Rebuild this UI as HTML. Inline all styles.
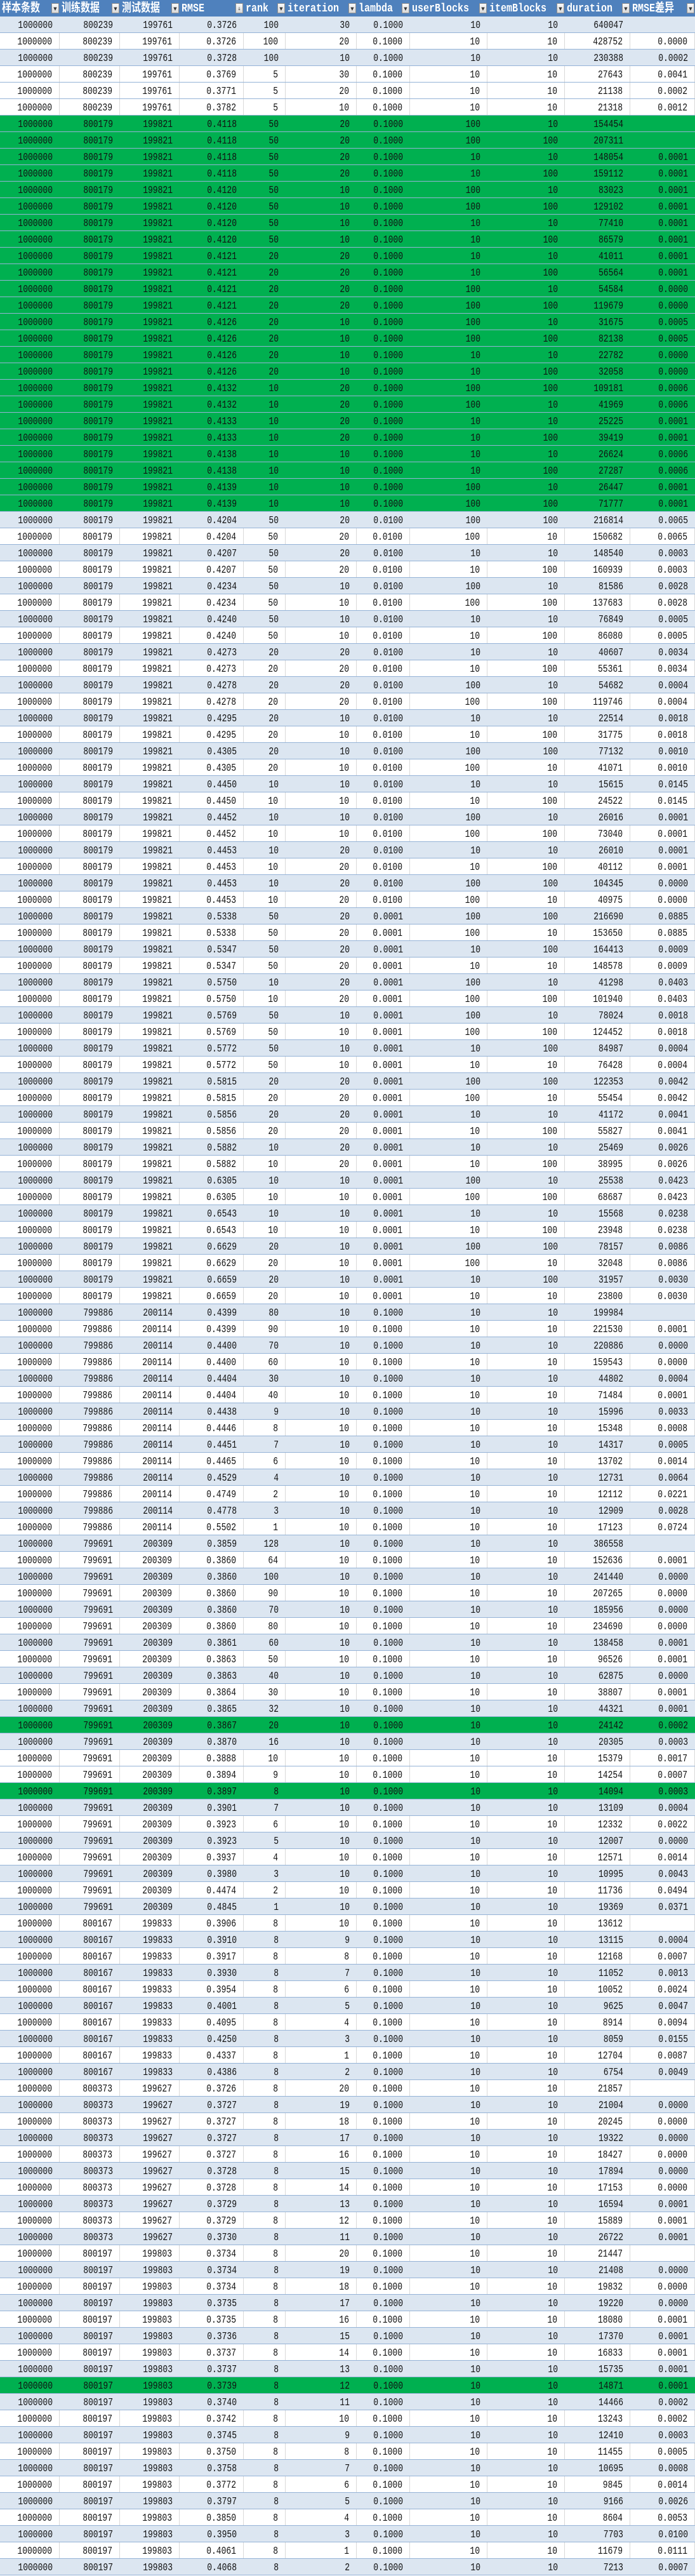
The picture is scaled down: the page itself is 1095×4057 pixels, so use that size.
<!DOCTYPE html>
<html>
<head>
<meta charset="utf-8">
<style>
html,body{margin:0;padding:0;background:#fff;}
#sheet{position:relative;width:1095px;height:4057px;overflow:hidden;background:#fff;}
.hdr{position:absolute;left:0;top:0;width:1095px;height:26px;background:#4F81BD;}
.hc{position:absolute;top:0;height:26px;color:#fff;font-family:"Liberation Mono","Noto Sans CJK SC",monospace;font-size:15px;font-weight:bold;line-height:26px;white-space:nowrap;overflow:hidden;}
.hc .lbl{position:absolute;left:3px;top:1px;display:inline-block;transform:scaleY(1.25);transform-origin:left center;}
.fb{position:absolute;right:1px;top:5px;width:12px;height:16px;background:linear-gradient(#fafafa,#d8d8d8);border:1px solid #8f8f8f;box-sizing:border-box;color:#333;font-size:7px;line-height:16px;text-align:center;font-weight:normal;font-family:"DejaVu Sans",sans-serif;}
.row{position:absolute;left:0;width:1095px;height:26px;box-sizing:border-box;border-bottom:1px solid #95B3D7;}
.b{background:#DCE6F1;}
.w{background:#fff;}
.g{background:#00B050;}
.c{position:absolute;top:0;height:25px;box-sizing:border-box;text-align:right;padding-right:11px;font-family:"Liberation Mono",monospace;font-size:13px;color:#111;line-height:27px;white-space:nowrap;}
.w .c{border-right:1px solid #D9D9D9;}
.c span{display:inline-block;transform:scaleY(1.25);transform-origin:center center;}
</style>
</head>
<body>
<div id="sheet">
  <div class="hdr" id="hdr"></div>
  <div id="body"></div>
</div>
<script>
var headers = ["样本条数","训练数据","测试数据","RMSE","rank","iteration","lambda","userBlocks","itemBlocks","duration","RMSE差异"];
var headerNames = ["sample-count-header","train-data-header","test-data-header","rmse-header","rank-header","iteration-header","lambda-header","user-blocks-header","item-blocks-header","duration-header","rmse-diff-header"];
var colEdges = [0,94,189,283,384,450,562,646,768,890,993,1095];
var sampleCount = "1000000";
// rows: train|test|rmse|rank|iteration|lambda|userBlocks|itemBlocks|duration|diff
var rows = [
"800239|199761|0.3726|100|30|0.1000|10|10|640047|",
"800239|199761|0.3726|100|20|0.1000|10|10|428752|0.0000",
"800239|199761|0.3728|100|10|0.1000|10|10|230388|0.0002",
"800239|199761|0.3769|5|30|0.1000|10|10|27643|0.0041",
"800239|199761|0.3771|5|20|0.1000|10|10|21138|0.0002",
"800239|199761|0.3782|5|10|0.1000|10|10|21318|0.0012",
"800179|199821|0.4118|50|20|0.1000|100|10|154454|",
"800179|199821|0.4118|50|20|0.1000|100|100|207311|",
"800179|199821|0.4118|50|20|0.1000|10|10|148054|0.0001",
"800179|199821|0.4118|50|20|0.1000|10|100|159112|0.0001",
"800179|199821|0.4120|50|10|0.1000|100|10|83023|0.0001",
"800179|199821|0.4120|50|10|0.1000|100|100|129102|0.0001",
"800179|199821|0.4120|50|10|0.1000|10|10|77410|0.0001",
"800179|199821|0.4120|50|10|0.1000|10|100|86579|0.0001",
"800179|199821|0.4121|20|20|0.1000|10|10|41011|0.0001",
"800179|199821|0.4121|20|20|0.1000|10|100|56564|0.0001",
"800179|199821|0.4121|20|20|0.1000|100|10|54584|0.0000",
"800179|199821|0.4121|20|20|0.1000|100|100|119679|0.0000",
"800179|199821|0.4126|20|10|0.1000|100|10|31675|0.0005",
"800179|199821|0.4126|20|10|0.1000|100|100|82138|0.0005",
"800179|199821|0.4126|20|10|0.1000|10|10|22782|0.0000",
"800179|199821|0.4126|20|10|0.1000|10|100|32058|0.0000",
"800179|199821|0.4132|10|20|0.1000|100|100|109181|0.0006",
"800179|199821|0.4132|10|20|0.1000|100|10|41969|0.0006",
"800179|199821|0.4133|10|20|0.1000|10|10|25225|0.0001",
"800179|199821|0.4133|10|20|0.1000|10|100|39419|0.0001",
"800179|199821|0.4138|10|10|0.1000|10|10|26624|0.0006",
"800179|199821|0.4138|10|10|0.1000|10|100|27287|0.0006",
"800179|199821|0.4139|10|10|0.1000|100|10|26447|0.0001",
"800179|199821|0.4139|10|10|0.1000|100|100|71777|0.0001",
"800179|199821|0.4204|50|20|0.0100|100|100|216814|0.0065",
"800179|199821|0.4204|50|20|0.0100|100|10|150682|0.0065",
"800179|199821|0.4207|50|20|0.0100|10|10|148540|0.0003",
"800179|199821|0.4207|50|20|0.0100|10|100|160939|0.0003",
"800179|199821|0.4234|50|10|0.0100|100|10|81586|0.0028",
"800179|199821|0.4234|50|10|0.0100|100|100|137683|0.0028",
"800179|199821|0.4240|50|10|0.0100|10|10|76849|0.0005",
"800179|199821|0.4240|50|10|0.0100|10|100|86080|0.0005",
"800179|199821|0.4273|20|20|0.0100|10|10|40607|0.0034",
"800179|199821|0.4273|20|20|0.0100|10|100|55361|0.0034",
"800179|199821|0.4278|20|20|0.0100|100|10|54682|0.0004",
"800179|199821|0.4278|20|20|0.0100|100|100|119746|0.0004",
"800179|199821|0.4295|20|10|0.0100|10|10|22514|0.0018",
"800179|199821|0.4295|20|10|0.0100|10|100|31775|0.0018",
"800179|199821|0.4305|20|10|0.0100|100|100|77132|0.0010",
"800179|199821|0.4305|20|10|0.0100|100|10|41071|0.0010",
"800179|199821|0.4450|10|10|0.0100|10|10|15615|0.0145",
"800179|199821|0.4450|10|10|0.0100|10|100|24522|0.0145",
"800179|199821|0.4452|10|10|0.0100|100|10|26016|0.0001",
"800179|199821|0.4452|10|10|0.0100|100|100|73040|0.0001",
"800179|199821|0.4453|10|20|0.0100|10|10|26010|0.0001",
"800179|199821|0.4453|10|20|0.0100|10|100|40112|0.0001",
"800179|199821|0.4453|10|20|0.0100|100|100|104345|0.0000",
"800179|199821|0.4453|10|20|0.0100|100|10|40975|0.0000",
"800179|199821|0.5338|50|20|0.0001|100|100|216690|0.0885",
"800179|199821|0.5338|50|20|0.0001|100|10|153650|0.0885",
"800179|199821|0.5347|50|20|0.0001|10|100|164413|0.0009",
"800179|199821|0.5347|50|20|0.0001|10|10|148578|0.0009",
"800179|199821|0.5750|10|20|0.0001|100|10|41298|0.0403",
"800179|199821|0.5750|10|20|0.0001|100|100|101940|0.0403",
"800179|199821|0.5769|50|10|0.0001|100|10|78024|0.0018",
"800179|199821|0.5769|50|10|0.0001|100|100|124452|0.0018",
"800179|199821|0.5772|50|10|0.0001|10|100|84987|0.0004",
"800179|199821|0.5772|50|10|0.0001|10|10|76428|0.0004",
"800179|199821|0.5815|20|20|0.0001|100|100|122353|0.0042",
"800179|199821|0.5815|20|20|0.0001|100|10|55454|0.0042",
"800179|199821|0.5856|20|20|0.0001|10|10|41172|0.0041",
"800179|199821|0.5856|20|20|0.0001|10|100|55827|0.0041",
"800179|199821|0.5882|10|20|0.0001|10|10|25469|0.0026",
"800179|199821|0.5882|10|20|0.0001|10|100|38995|0.0026",
"800179|199821|0.6305|10|10|0.0001|100|10|25538|0.0423",
"800179|199821|0.6305|10|10|0.0001|100|100|68687|0.0423",
"800179|199821|0.6543|10|10|0.0001|10|10|15568|0.0238",
"800179|199821|0.6543|10|10|0.0001|10|100|23948|0.0238",
"800179|199821|0.6629|20|10|0.0001|100|100|78157|0.0086",
"800179|199821|0.6629|20|10|0.0001|100|10|32048|0.0086",
"800179|199821|0.6659|20|10|0.0001|10|100|31957|0.0030",
"800179|199821|0.6659|20|10|0.0001|10|10|23800|0.0030",
"799886|200114|0.4399|80|10|0.1000|10|10|199984|",
"799886|200114|0.4399|90|10|0.1000|10|10|221530|0.0001",
"799886|200114|0.4400|70|10|0.1000|10|10|220886|0.0000",
"799886|200114|0.4400|60|10|0.1000|10|10|159543|0.0000",
"799886|200114|0.4404|30|10|0.1000|10|10|44802|0.0004",
"799886|200114|0.4404|40|10|0.1000|10|10|71484|0.0001",
"799886|200114|0.4438|9|10|0.1000|10|10|15996|0.0033",
"799886|200114|0.4446|8|10|0.1000|10|10|15348|0.0008",
"799886|200114|0.4451|7|10|0.1000|10|10|14317|0.0005",
"799886|200114|0.4465|6|10|0.1000|10|10|13702|0.0014",
"799886|200114|0.4529|4|10|0.1000|10|10|12731|0.0064",
"799886|200114|0.4749|2|10|0.1000|10|10|12112|0.0221",
"799886|200114|0.4778|3|10|0.1000|10|10|12909|0.0028",
"799886|200114|0.5502|1|10|0.1000|10|10|17123|0.0724",
"799691|200309|0.3859|128|10|0.1000|10|10|386558|",
"799691|200309|0.3860|64|10|0.1000|10|10|152636|0.0001",
"799691|200309|0.3860|100|10|0.1000|10|10|241440|0.0000",
"799691|200309|0.3860|90|10|0.1000|10|10|207265|0.0000",
"799691|200309|0.3860|70|10|0.1000|10|10|185956|0.0000",
"799691|200309|0.3860|80|10|0.1000|10|10|234690|0.0000",
"799691|200309|0.3861|60|10|0.1000|10|10|138458|0.0001",
"799691|200309|0.3863|50|10|0.1000|10|10|96526|0.0001",
"799691|200309|0.3863|40|10|0.1000|10|10|62875|0.0000",
"799691|200309|0.3864|30|10|0.1000|10|10|38807|0.0001",
"799691|200309|0.3865|32|10|0.1000|10|10|44321|0.0001",
"799691|200309|0.3867|20|10|0.1000|10|10|24142|0.0002",
"799691|200309|0.3870|16|10|0.1000|10|10|20305|0.0003",
"799691|200309|0.3888|10|10|0.1000|10|10|15379|0.0017",
"799691|200309|0.3894|9|10|0.1000|10|10|14254|0.0007",
"799691|200309|0.3897|8|10|0.1000|10|10|14094|0.0003",
"799691|200309|0.3901|7|10|0.1000|10|10|13109|0.0004",
"799691|200309|0.3923|6|10|0.1000|10|10|12332|0.0022",
"799691|200309|0.3923|5|10|0.1000|10|10|12007|0.0000",
"799691|200309|0.3937|4|10|0.1000|10|10|12571|0.0014",
"799691|200309|0.3980|3|10|0.1000|10|10|10995|0.0043",
"799691|200309|0.4474|2|10|0.1000|10|10|11736|0.0494",
"799691|200309|0.4845|1|10|0.1000|10|10|19369|0.0371",
"800167|199833|0.3906|8|10|0.1000|10|10|13612|",
"800167|199833|0.3910|8|9|0.1000|10|10|13115|0.0004",
"800167|199833|0.3917|8|8|0.1000|10|10|12168|0.0007",
"800167|199833|0.3930|8|7|0.1000|10|10|11052|0.0013",
"800167|199833|0.3954|8|6|0.1000|10|10|10052|0.0024",
"800167|199833|0.4001|8|5|0.1000|10|10|9625|0.0047",
"800167|199833|0.4095|8|4|0.1000|10|10|8914|0.0094",
"800167|199833|0.4250|8|3|0.1000|10|10|8059|0.0155",
"800167|199833|0.4337|8|1|0.1000|10|10|12704|0.0087",
"800167|199833|0.4386|8|2|0.1000|10|10|6754|0.0049",
"800373|199627|0.3726|8|20|0.1000|10|10|21857|",
"800373|199627|0.3727|8|19|0.1000|10|10|21004|0.0000",
"800373|199627|0.3727|8|18|0.1000|10|10|20245|0.0000",
"800373|199627|0.3727|8|17|0.1000|10|10|19322|0.0000",
"800373|199627|0.3727|8|16|0.1000|10|10|18427|0.0000",
"800373|199627|0.3728|8|15|0.1000|10|10|17894|0.0000",
"800373|199627|0.3728|8|14|0.1000|10|10|17153|0.0000",
"800373|199627|0.3729|8|13|0.1000|10|10|16594|0.0001",
"800373|199627|0.3729|8|12|0.1000|10|10|15889|0.0001",
"800373|199627|0.3730|8|11|0.1000|10|10|26722|0.0001",
"800197|199803|0.3734|8|20|0.1000|10|10|21447|",
"800197|199803|0.3734|8|19|0.1000|10|10|21408|0.0000",
"800197|199803|0.3734|8|18|0.1000|10|10|19832|0.0000",
"800197|199803|0.3735|8|17|0.1000|10|10|19220|0.0000",
"800197|199803|0.3735|8|16|0.1000|10|10|18080|0.0001",
"800197|199803|0.3736|8|15|0.1000|10|10|17370|0.0001",
"800197|199803|0.3737|8|14|0.1000|10|10|16833|0.0001",
"800197|199803|0.3737|8|13|0.1000|10|10|15735|0.0001",
"800197|199803|0.3739|8|12|0.1000|10|10|14871|0.0001",
"800197|199803|0.3740|8|11|0.1000|10|10|14466|0.0002",
"800197|199803|0.3742|8|10|0.1000|10|10|13243|0.0002",
"800197|199803|0.3745|8|9|0.1000|10|10|12410|0.0003",
"800197|199803|0.3750|8|8|0.1000|10|10|11455|0.0005",
"800197|199803|0.3758|8|7|0.1000|10|10|10695|0.0008",
"800197|199803|0.3772|8|6|0.1000|10|10|9845|0.0014",
"800197|199803|0.3797|8|5|0.1000|10|10|9166|0.0026",
"800197|199803|0.3850|8|4|0.1000|10|10|8604|0.0053",
"800197|199803|0.3950|8|3|0.1000|10|10|7703|0.0100",
"800197|199803|0.4061|8|1|0.1000|10|10|11679|0.0111",
"800197|199803|0.4068|8|2|0.1000|10|10|7213|0.0007"
];
var greenRows = [6,7,8,9,10,11,12,13,14,15,16,17,18,19,20,21,22,23,24,25,26,27,28,29,103,107,143];
var whiteOverrideRows = [4,106];

var hdr = document.getElementById('hdr');
for (var h = 0; h < headers.length; h++) {
  var hc = document.createElement('div');
  hc.className = 'hc';
  hc.style.left = colEdges[h] + 'px';
  hc.style.width = (colEdges[h+1] - colEdges[h]) + 'px';
  
  
  var lbl = document.createElement('span');
  lbl.className = 'lbl';
  lbl.textContent = headers[h];
  hc.appendChild(lbl);
  var fb = document.createElement('div');
  fb.className = 'fb';
  fb.textContent = (h === 3) ? '↓' : '▼';
  
  
  hc.appendChild(fb);
  hdr.appendChild(hc);
}

var body = document.getElementById('body');
for (var r = 0; r < rows.length; r++) {
  var vals = [sampleCount].concat(rows[r].split('|'));
  var cls = (r % 2 === 0) ? 'b' : 'w';
  if (whiteOverrideRows.indexOf(r) >= 0) cls = 'w';
  if (greenRows.indexOf(r) >= 0) cls = 'g';
  var row = document.createElement('div');
  row.className = 'row ' + cls;
  row.style.top = (26 + r * 26) + 'px';
  
  
  for (var c = 0; c < vals.length; c++) {
    var cell = document.createElement('div');
    cell.className = 'c';
    cell.style.left = colEdges[c] + 'px';
    cell.style.width = (colEdges[c+1] - colEdges[c]) + 'px';
    
    
    var sp = document.createElement('span');
    sp.textContent = vals[c];
    cell.appendChild(sp);
    row.appendChild(cell);
  }
  body.appendChild(row);
}
</script>
</body>
</html>
